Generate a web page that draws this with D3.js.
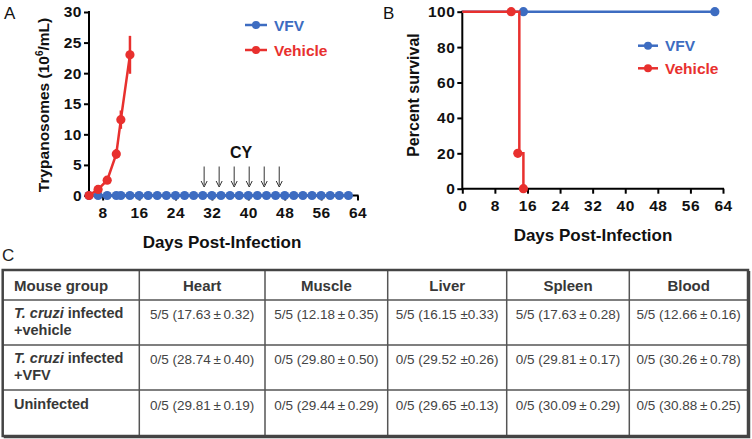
<!DOCTYPE html>
<html><head><meta charset="utf-8">
<script src="https://cdn.jsdelivr.net/npm/d3@7"></script>
<style>
body{margin:0;background:#fff;}
svg{display:block;font-family:"Liberation Sans",Arial,sans-serif;}
</style></head><body>
<svg id="c" width="752" height="439"></svg>
<script>
// ---------- Data ----------
// Panel A: parasitemia
const vehicleDays = [5, 7, 9, 11, 12, 14];
const vehicleVals = [0, 1.0, 2.5, 6.8, 12.4, 23.0];
const vehicleErr  = [0, 0.3, 0.4, 0.8, 1.5, 3.1];
const vfvDays = [5, 7, 9, 11, 12, 14, 16, 18, 20, 22, 24, 26, 28, 30, 32, 34, 36, 38, 40, 42, 44, 46, 48, 50, 52, 54, 56, 58, 60, 62];
const vfvVals = vfvDays.map(() => 0);
const cyDays = [30.3, 33.6, 36.9, 40.2, 43.5, 46.8];
const aXTicks = [8, 16, 24, 32, 40, 48, 56, 64];
const aYTicks = [0, 5, 10, 15, 20, 25, 30];
// Panel B: survival
const survVehicleDays = [0, 12, 14, 15];
const survVehicleVals = [100, 100, 20, 0];
const survVehicleMarks = [12, 14, 15];
const survVfvDays = [0, 15, 62];
const survVfvVals = [100, 100, 100];
const survVfvMarks = [15, 62];
const bXTicks = [0, 8, 16, 24, 32, 40, 48, 56, 64];
const bYTicks = [0, 20, 40, 60, 80, 100];
// Panel C: table
const tableHeaders = ["Mouse group", "Heart", "Muscle", "Liver", "Spleen", "Blood"];
const tableGroups = [["T. cruzi|infected", "+vehicle"], ["T. cruzi|infected", "+VFV"], ["Uninfected"]];
const tableValues = [
  ["5/5 (17.63\u2009±\u20090.32)", "5/5 (12.18\u2009±\u20090.35)", "5/5 (16.15 ±0.33)", "5/5 (17.63\u2009±\u20090.28)", "5/5 (12.66\u2009±\u20090.16)"],
  ["0/5 (28.74\u2009±\u20090.40)", "0/5 (29.80\u2009±\u20090.50)", "0/5 (29.52 ±0.26)", "0/5 (29.81\u2009±\u20090.17)", "0/5 (30.26\u2009±\u20090.78)"],
  ["0/5 (29.81\u2009±\u20090.19)", "0/5 (29.44\u2009±\u20090.29)", "0/5 (29.65 ±0.13)", "0/5 (30.09\u2009±\u20090.29)", "0/5 (30.88\u2009±\u20090.25)"]
];

const BLUE = "#3d6cc1", RED = "#e8302e";
const svg = d3.select("#c");

function styleAxis(g) {
  g.selectAll(".domain").remove();
  g.selectAll(".tick line").attr("stroke", "#000").attr("stroke-width", 2);
  g.selectAll(".tick text").attr("font-size", 15.5).attr("font-weight", "bold").attr("letter-spacing", 0.5)
    .attr("font-family", "'Liberation Sans',Arial,sans-serif").attr("fill", "#111");
}

// ---------- Panel A ----------
{
  const x = d3.scaleLinear().domain([5, 64]).range([89, 357.5]);
  const y = d3.scaleLinear().domain([0, 30]).range([195.5, 12]);
  const g = svg.append("g");
  const gx = g.append("g").attr("transform", "translate(0,195.5)")
    .call(d3.axisBottom(x).tickValues(aXTicks).tickSize(5).tickPadding(6).tickFormat(d3.format("d")));
  styleAxis(gx);
  g.append("line").attr("x1", 89).attr("x2", 358.5).attr("y1", 195.5).attr("y2", 195.5).attr("stroke", "#000").attr("stroke-width", 2);
  const gy = g.append("g").attr("transform", "translate(89,0)")
    .call(d3.axisLeft(y).tickValues(aYTicks).tickSize(5).tickPadding(2));
  styleAxis(gy);
  g.append("line").attr("x1", 89).attr("x2", 89).attr("y1", 11).attr("y2", 196.5).attr("stroke", "#000").attr("stroke-width", 2);

  const vfv = vfvDays.map((d, i) => [d, vfvVals[i]]);
  g.append("path").datum(vfv).attr("fill", "none").attr("stroke", BLUE).attr("stroke-width", 2.5)
    .attr("d", d3.line().x(d => x(d[0])).y(d => y(d[1])));
  g.selectAll(".vd").data(vfv).join("circle").attr("cx", d => x(d[0])).attr("cy", d => y(d[1])).attr("r", 4.6).attr("fill", BLUE);

  const veh = vehicleDays.map((d, i) => [d, vehicleVals[i], vehicleErr[i]]);
  g.selectAll(".ve").data(veh.filter(d => d[2] > 0)).join("line")
    .attr("x1", d => x(d[0])).attr("x2", d => x(d[0]))
    .attr("y1", d => y(d[1] - d[2])).attr("y2", d => y(d[1] + d[2]))
    .attr("stroke", RED).attr("stroke-width", 2.5);
  g.append("path").datum(veh).attr("fill", "none").attr("stroke", RED).attr("stroke-width", 2.5)
    .attr("d", d3.line().x(d => x(d[0])).y(d => y(d[1])));
  g.selectAll(".vh").data(veh).join("circle").attr("cx", d => x(d[0])).attr("cy", d => y(d[1])).attr("r", 4.6).attr("fill", RED);

  g.selectAll(".cy").data(cyDays).join("line")
    .attr("x1", d => x(d)).attr("x2", d => x(d)).attr("y1", 166.5).attr("y2", 185)
    .attr("stroke", "#333").attr("stroke-width", 1);
  g.selectAll(".cyh").data(cyDays).join("path")
    .attr("d", d => `M${x(d) - 3},${181} L${x(d)},${187} L${x(d) + 3},${181}`)
    .attr("fill", "none").attr("stroke", "#333").attr("stroke-width", 1);
  g.append("text").attr("x", 241).attr("y", 157.5).attr("text-anchor", "middle")
    .attr("font-size", 16).attr("font-weight", "bold").attr("fill", "#111").text("CY");

  [[BLUE, "VFV", 25], [RED, "Vehicle", 50]].forEach(([c, t, yy]) => {
    g.append("line").attr("x1", 245).attr("x2", 267).attr("y1", yy).attr("y2", yy).attr("stroke", c).attr("stroke-width", 2.5);
    g.append("circle").attr("cx", 256).attr("cy", yy).attr("r", 4).attr("fill", c);
    g.append("text").attr("x", 274).attr("y", yy + 5.5).attr("font-size", 15.5).attr("font-weight", "bold").attr("fill", c).text(t);
  });

  const yl = g.append("text").attr("transform", "translate(49,105) rotate(-90)").attr("text-anchor", "middle")
    .attr("font-size", 15.5).attr("font-weight", "bold").attr("fill", "#111");
  yl.append("tspan").text("Trypanosomes (10");
  yl.append("tspan").attr("font-size", 10).attr("dy", -6).text("6");
  yl.append("tspan").attr("dy", 6).text("/mL)");
  g.append("text").attr("x", 222).attr("y", 248).attr("text-anchor", "middle")
    .attr("font-size", 17).attr("font-weight", "bold").attr("fill", "#111").text("Days Post-Infection");
  g.append("text").attr("x", 4).attr("y", 19).attr("font-size", 17).attr("fill", "#111").text("A");
}

// ---------- Panel B ----------
{
  const x = d3.scaleLinear().domain([0, 64]).range([462.3, 723]);
  const y = d3.scaleLinear().domain([0, 100]).range([188.7, 11.7]);
  const g = svg.append("g");
  const gx = g.append("g").attr("transform", "translate(0,188.7)")
    .call(d3.axisBottom(x).tickValues(bXTicks).tickSize(5).tickPadding(6));
  styleAxis(gx);
  g.append("line").attr("x1", 462.3).attr("x2", 724).attr("y1", 188.7).attr("y2", 188.7).attr("stroke", "#000").attr("stroke-width", 2);
  const gy = g.append("g").attr("transform", "translate(462.3,0)")
    .call(d3.axisLeft(y).tickValues(bYTicks).tickSize(5).tickPadding(2));
  styleAxis(gy);
  g.append("line").attr("x1", 462.3).attr("x2", 462.3).attr("y1", 10.7).attr("y2", 189.7).attr("stroke", "#000").attr("stroke-width", 2);

  const vfv = survVfvDays.map((d, i) => [d, survVfvVals[i]]);
  g.append("path").datum(vfv).attr("fill", "none").attr("stroke", BLUE).attr("stroke-width", 2.5)
    .attr("d", d3.line().curve(d3.curveStepAfter).x(d => x(d[0])).y(d => y(d[1])));
  g.selectAll(".bm").data(survVfvMarks).join("circle").attr("cx", d => x(d)).attr("cy", y(100)).attr("r", 4.6).attr("fill", BLUE);

  const veh = survVehicleDays.map((d, i) => [d, survVehicleVals[i]]);
  g.append("path").datum(veh).attr("fill", "none").attr("stroke", RED).attr("stroke-width", 2.5)
    .attr("d", d3.line().curve(d3.curveStepAfter).x(d => x(d[0])).y(d => y(d[1])));
  g.selectAll(".rm").data(survVehicleMarks).join("circle")
    .attr("cx", d => x(d) - (d === 14 ? 1.5 : 0))
    .attr("cy", d => y(survVehicleVals[survVehicleDays.indexOf(d)])).attr("r", 4.6).attr("fill", RED);

  [[BLUE, "VFV", 45.7], [RED, "Vehicle", 68.3]].forEach(([c, t, yy]) => {
    g.append("line").attr("x1", 638).attr("x2", 658).attr("y1", yy).attr("y2", yy).attr("stroke", c).attr("stroke-width", 2.5);
    g.append("circle").attr("cx", 648).attr("cy", yy).attr("r", 4).attr("fill", c);
    g.append("text").attr("x", 665).attr("y", yy + 5.5).attr("font-size", 15.5).attr("font-weight", "bold").attr("fill", c).text(t);
  });

  g.append("text").attr("transform", "translate(419,95) rotate(-90)").attr("text-anchor", "middle")
    .attr("font-size", 16).attr("font-weight", "bold").attr("fill", "#111").text("Percent survival");
  g.append("text").attr("x", 593).attr("y", 241).attr("text-anchor", "middle")
    .attr("font-size", 17).attr("font-weight", "bold").attr("fill", "#111").text("Days Post-Infection");
  g.append("text").attr("x", 383).attr("y", 19).attr("font-size", 17).attr("fill", "#111").text("B");
}

// ---------- Panel C ----------
{
  const colX = [2.7, 139.3, 265, 387.7, 506.7, 629.3, 748];
  const rowY = [270, 300, 345, 390, 436];
  const g = svg.append("g");
  g.append("text").attr("x", 2).attr("y", 261).attr("font-size", 17).attr("fill", "#222").text("C");
  colX.slice(1, -1).forEach(cx => g.append("line").attr("x1", cx).attr("x2", cx).attr("y1", rowY[0]).attr("y2", rowY[4]).attr("stroke", "#555").attr("stroke-width", 1.5));
  rowY.slice(1, -1).forEach(ry => g.append("line").attr("x1", colX[0]).attr("x2", colX[6]).attr("y1", ry).attr("y2", ry).attr("stroke", "#555").attr("stroke-width", 1.5));
  g.append("rect").attr("x", colX[0]).attr("y", rowY[0]).attr("width", colX[6] - colX[0]).attr("height", rowY[4] - rowY[0])
    .attr("fill", "none").attr("stroke", "#444").attr("stroke-width", 2.5);
  g.append("path").attr("d", `M${colX[6] + 1.5},${rowY[0] + 1} V${rowY[4] + 1.5} H${colX[0] + 1}`).attr("fill", "none").attr("stroke", "#444").attr("stroke-width", 1.5);

  tableHeaders.forEach((h, i) => {
    const t = g.append("text").attr("y", 291).attr("font-size", 15).attr("font-weight", "bold").attr("fill", "#383838").text(h);
    if (i === 0) t.attr("x", 14);
    else t.attr("x", (colX[i] + colX[i + 1]) / 2).attr("text-anchor", "middle");
  });
  const firstLineY = [318, 363, 409];
  tableGroups.forEach((lines, r) => {
    lines.forEach((ln, k) => {
      const t = g.append("text").attr("x", 14).attr("y", firstLineY[r] + k * 17).attr("font-size", 14.5).attr("font-weight", "bold").attr("fill", "#383838");
      if (ln.includes("|")) {
        const [it, rest] = ln.split("|");
        t.append("tspan").attr("font-style", "italic").text(it);
        t.append("tspan").text(" " + rest);
      } else t.text(ln);
    });
  });
  tableValues.forEach((row, r) => {
    row.forEach((v, c) => {
      g.append("text").attr("x", (colX[c + 1] + colX[c + 2]) / 2).attr("y", firstLineY[r] + 1).attr("text-anchor", "middle")
        .attr("font-size", 13.5).attr("fill", "#444").text(v);
    });
  });
}
</script>
</body></html>
